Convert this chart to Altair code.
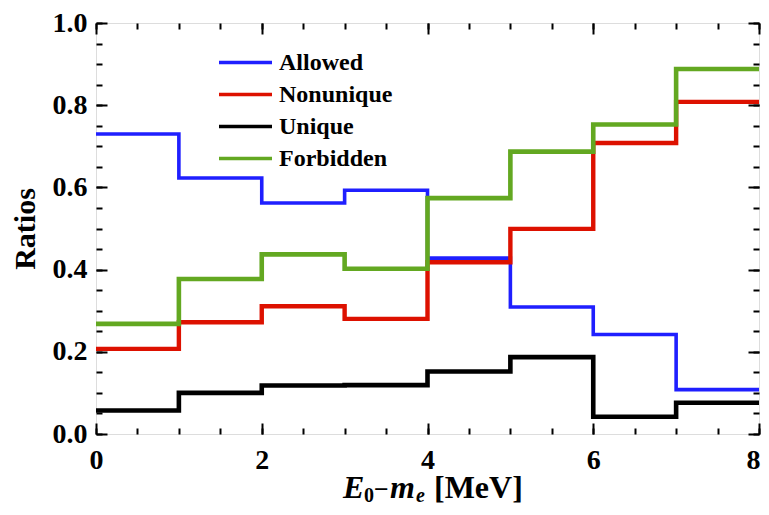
import altair as alt
import pandas as pd

# ---- data ----
bin_edges = [0, 1, 2, 3, 4, 5, 6, 7, 8]
series_names = ["Allowed", "Nonunique", "Unique", "Forbidden"]
allowed = [0.730, 0.623, 0.562, 0.593, 0.428, 0.309, 0.242, 0.108]
nonunique = [0.207, 0.272, 0.311, 0.280, 0.418, 0.499, 0.708, 0.808]
unique = [0.057, 0.100, 0.118, 0.119, 0.152, 0.187, 0.042, 0.076]
forbidden = [0.268, 0.377, 0.437, 0.402, 0.574, 0.687, 0.753, 0.888]
colors = ["#1f1fff", "#dd1100", "#000000", "#63a821"]
widths = [3.6, 4.4, 4.6, 4.6]

x_major = [0, 2, 4, 6, 8]
x_labels_centered = [0, 2, 4, 6]
x_label_edge = [8]
x_minor = [i * 0.5 for i in range(17)]
y_major = [0.0, 0.2, 0.4, 0.6, 0.8, 1.0]
y_minor = [i * 0.05 for i in range(21)]

values = {"Allowed": allowed, "Nonunique": nonunique, "Unique": unique, "Forbidden": forbidden}
rows = []
for name in series_names:
    v = values[name]
    for xe, val in zip(bin_edges, v + [v[-1]]):
        rows.append({"E": xe, "ratio": val, "type": name})
df = pd.DataFrame(rows)

FONT = "Liberation Serif"
xscale = alt.Scale(domain=[0, 8], nice=False, zero=False)
yscale = alt.Scale(domain=[0, 1], nice=False, zero=False)
cscale = alt.Scale(domain=series_names, range=colors)

legend = alt.Legend(
    title=None, orient="none", legendX=121, legendY=28,
    symbolType="stroke", symbolSize=2809, symbolStrokeWidth=3.4,
    labelFont=FONT, labelFontSize=24, labelFontWeight="bold", labelColor="black",
    labelOffset=5, rowPadding=7, clipHeight=23,
)


def tick_axis(orient, vals, size):
    return alt.Axis(orient=orient, values=vals, labels=False, domain=False, grid=False,
                    ticks=True, tickSize=size, tickWidth=2, tickColor="black",
                    offset=-size, title=None)


def x_label_axis(vals, flush):
    return alt.Axis(orient="bottom", values=vals, ticks=False, domain=False, grid=False,
                    labelFont=FONT, labelFontSize=28, labelFontWeight="bold", labelColor="black",
                    labelPadding=12, labelFlush=flush, labelFlushOffset=1, format="d", title=None)


y_label_axis = alt.Axis(orient="left", values=y_major, ticks=False, domain=False, grid=False,
                        labelFont=FONT, labelFontSize=28, labelFontWeight="bold", labelColor="black",
                        labelPadding=9, labelFlush=False, format=".1f",
                        title="Ratios", titleFont=FONT, titleFontSize=30, titleFontWeight="bold",
                        titleColor="black", titlePadding=12)

axis_pairs = [
    (x_label_axis(x_labels_centered, False), y_label_axis),
    (tick_axis("bottom", x_major, 11), tick_axis("left", y_major, 11)),
    (tick_axis("bottom", x_minor, 6), tick_axis("left", y_minor, 6)),
    (tick_axis("top", x_major, 11), tick_axis("right", y_major, 11)),
    (tick_axis("top", x_minor, 6), tick_axis("right", y_minor, 6)),
    (x_label_axis(x_label_edge, True), None),
]

layers = []
for i, name in enumerate(series_names):
    xa, ya = axis_pairs[i]
    layers.append(
        alt.Chart(df).transform_filter(alt.datum.type == name)
        .mark_line(interpolate="step-after", strokeWidth=widths[i], strokeJoin="miter", clip=False)
        .encode(
            x=alt.X("E:Q", scale=xscale, axis=xa),
            y=alt.Y("ratio:Q", scale=yscale, axis=ya),
            color=alt.Color("type:N", scale=cscale, legend=legend),
        )
    )

for xa, ya in axis_pairs[4:]:
    layers.append(
        alt.Chart(df).mark_point(opacity=0).encode(
            x=alt.X("E:Q", scale=xscale, axis=xa),
            y=alt.Y("ratio:Q", scale=yscale, axis=ya),
        )
    )

# x-axis title with italic symbols and subscripts
title_parts = [
    ("E", 247, 475, 32, "italic"),
    ("0", 268, 479, 20, "normal"),
    ("\u2212", 278, 475, 26, "normal"),
    ("m", 294, 475, 32, "italic"),
    ("e", 320, 479, 20, "italic"),
    ("[MeV]", 338, 475, 32, "normal"),
]
for txt, px, py, fs, style in title_parts:
    layers.append(
        alt.Chart(pd.DataFrame({"t": [txt]})).mark_text(
            font=FONT, fontSize=fs, fontWeight="bold", fontStyle=style,
            align="left", baseline="alphabetic", color="black",
        ).encode(text="t:N", x=alt.value(px), y=alt.value(py))
    )

chart = (
    alt.layer(*layers)
    .resolve_axis(x="independent", y="independent")
    .resolve_scale(x="shared", y="shared", color="shared")
    .properties(width=663, height=411, autosize=alt.AutoSizeParams(type="none"),
                padding={"left": 88, "top": 15, "right": 2, "bottom": 73})
    .configure_view(stroke="black", strokeWidth=2.5)
    .configure(background="white")
)

chart.save("out.html", embed_options={"renderer": "svg", "actions": False})
